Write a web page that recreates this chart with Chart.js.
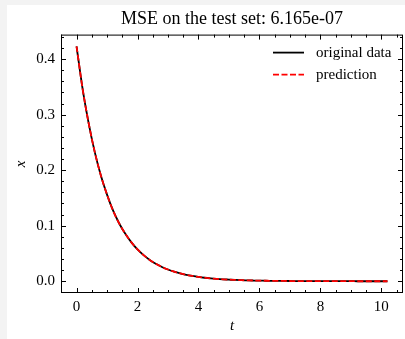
<!DOCTYPE html>
<html>
<head>
<meta charset="utf-8">
<script src="https://cdn.jsdelivr.net/npm/chart.js@4.4.0/dist/chart.umd.min.js"></script>
<style>
  html, body { margin: 0; padding: 0; background: #f3f3f3; }
  #myChart { position: absolute; left: 7px; top: 5px; background: #fff; }
</style>
</head>
<body>
<canvas id="myChart" width="398" height="334"></canvas>
<script>
// values
const tValues = [
  0, 0.2, 0.4, 0.6, 0.8, 1.0, 1.2, 1.4, 1.6, 1.8,
  2.0, 2.2, 2.4, 2.6, 2.8, 3.0, 3.2, 3.4, 3.6, 3.8,
  4.0, 4.2, 4.4, 4.6, 4.8, 5.0, 5.2, 5.4, 5.6, 5.8,
  6.0, 6.2, 6.4, 6.6, 6.8, 7.0, 7.2, 7.4, 7.6, 7.8,
  8.0, 8.2, 8.4, 8.6, 8.8, 9.0, 9.2, 9.4, 9.6, 9.8,
  10.0, 10.2
];
const originalData = [
  0.423, 0.346, 0.284, 0.232, 0.190, 0.156, 0.127, 0.104, 0.0854, 0.0699,
  0.0572, 0.0469, 0.0384, 0.0314, 0.0257, 0.0211, 0.0172, 0.0141, 0.0116, 0.0095,
  0.0077, 0.0063, 0.0052, 0.0043, 0.0035, 0.0029, 0.0023, 0.0019, 0.0016, 0.0013,
  0.0010, 0.0009, 0.0007, 0.0006, 0.0005, 0.0004, 0.0003, 0.0003, 0.0002, 0.0002,
  0.0001, 0.0001, 0.0001, 0.0001, 0.0001, 0.0001, 0.0000, 0.0000, 0.0000, 0.0000,
  0.0000, 0.0000
];
const predictionData = [
  0.423, 0.346, 0.284, 0.232, 0.190, 0.156, 0.127, 0.104, 0.0855, 0.0699,
  0.0573, 0.0469, 0.0384, 0.0314, 0.0257, 0.0211, 0.0172, 0.0141, 0.0116, 0.0095,
  0.0077, 0.0064, 0.0052, 0.0043, 0.0035, 0.0029, 0.0024, 0.0019, 0.0016, 0.0013,
  0.0011, 0.0009, 0.0007, 0.0006, 0.0005, 0.0004, 0.0003, 0.0003, 0.0002, 0.0002,
  0.0001, 0.0001, 0.0001, 0.0001, 0.0001, 0.0001, 0.0000, 0.0000, 0.0000, 0.0000,
  0.0000, 0.0000
];
const xTicks = [0, 2, 4, 6, 8, 10];
const yTicks = [0.0, 0.1, 0.2, 0.3, 0.4];
const titleText = "MSE on the test set: 6.165e-07";

const serif = "'Liberation Serif', 'Times New Roman', serif";

const toPoints = (ys) => tValues.map((t, i) => ({ x: t, y: ys[i] }));

// inward ticks on all four sides + frame, like the matplotlib style
const frameTicks = {
  id: "frameTicks",
  afterDatasetsDraw(chart) {
    const c = chart.ctx;
    const a = chart.chartArea;
    const xs = chart.scales.x;
    const ys = chart.scales.y;
    c.save();
    c.strokeStyle = "#000";
    c.lineWidth = 1;
    c.strokeRect(a.left + 0.5, a.top + 0.5, a.right - a.left - 1, a.bottom - a.top - 1);

    const tick = (x1, y1, x2, y2) => {
      c.beginPath();
      c.moveTo(x1, y1);
      c.lineTo(x2, y2);
      c.stroke();
    };
    // x ticks
    for (let v = -0.5; v <= xs.max + 1e-9; v += 0.5) {
      if (v < xs.min) continue;
      const major = Math.abs(v / 2 - Math.round(v / 2)) < 1e-9;
      const len = major ? 5 : 3;
      const px = Math.round(xs.getPixelForValue(v)) + 0.5;
      tick(px, a.bottom, px, a.bottom - len);
      tick(px, a.top, px, a.top + len);
    }
    // y ticks
    for (let k = -1; k <= 22; k++) {
      const v = k * 0.02;
      if (v < ys.min || v > ys.max) continue;
      const major = k % 5 === 0;
      const len = major ? 5 : 3;
      const py = Math.round(ys.getPixelForValue(v)) + 0.5;
      tick(a.left, py, a.left + len, py);
      tick(a.right, py, a.right - len, py);
    }
    c.restore();
  },
  afterDraw(chart) {
    // legend in the upper right corner of the axes
    const c = chart.ctx;
    const a = chart.chartArea;
    c.save();
    c.font = "15px " + serif;
    c.textBaseline = "middle";
    c.fillStyle = "#000";
    chart.data.datasets.forEach((ds, i) => {
      const y = a.top + 18 + i * 22;
      const x0 = a.right - 130;
      c.strokeStyle = ds.borderColor;
      c.lineWidth = ds.borderWidth;
      c.setLineDash(ds.borderDash || []);
      c.beginPath();
      c.moveTo(x0, y);
      c.lineTo(x0 + 31, y);
      c.stroke();
      c.setLineDash([]);
      c.fillText(ds.label, x0 + 43, y);
    });
    c.restore();
  },
};

const ctx = document.getElementById("myChart").getContext("2d");

const myChart = new Chart(ctx, {
  type: "line",
  data: {
    datasets: [
      {
        label: "original data",
        data: toPoints(originalData),
        borderColor: "#000000",
        borderWidth: 1.8,
        pointRadius: 0,
        cubicInterpolationMode: "monotone",
        order: 2,
      },
      {
        label: "prediction",
        data: toPoints(predictionData),
        borderColor: "#ff0000",
        borderWidth: 1.8,
        borderDash: [6, 2.5],
        pointRadius: 0,
        cubicInterpolationMode: "monotone",
        order: 1,
      },
    ],
  },
  options: {
    responsive: false,
    animation: false,
    layout: { padding: { left: 0, right: 2, top: 0, bottom: 0 } },
    plugins: {
      legend: { display: false },
      tooltip: { enabled: false },
      title: {
        display: true,
        text: titleText,
        fullSize: false,
        color: "#000",
        font: { family: serif, size: 18, weight: "normal" },
        padding: { top: 3, bottom: 5 },
      },
    },
    scales: {
      x: {
        type: "linear",
        min: -0.51,
        max: 10.71,
        grid: { display: false, drawTicks: false },
        border: { display: false },
        afterBuildTicks: (s) => { s.ticks = xTicks.map((v) => ({ value: v })); },
        afterFit: (s) => { s.height = 46; },
        ticks: {
          color: "#000",
          padding: 5,
          maxRotation: 0,
          font: { family: serif, size: 15 },
          callback: (v) => String(v),
        },
        title: {
          display: true,
          text: "t",
          color: "#000",
          font: { family: serif, size: 15, style: "italic" },
          padding: { top: 0, bottom: 4 },
        },
      },
      y: {
        type: "linear",
        min: -0.0212,
        max: 0.4442,
        grid: { display: false, drawTicks: false },
        border: { display: false },
        afterBuildTicks: (s) => { s.ticks = yTicks.map((v) => ({ value: v })); },
        afterFit: (s) => { s.width = 54; },
        ticks: {
          color: "#000",
          padding: 6,
          font: { family: serif, size: 15 },
          callback: (v) => Number(v).toFixed(1),
        },
        title: {
          display: true,
          text: "x",
          color: "#000",
          font: { family: serif, size: 15, style: "italic" },
          padding: { top: 5, bottom: 0 },
        },
      },
    },
  },
  plugins: [frameTicks],
});
</script>
</body>
</html>
